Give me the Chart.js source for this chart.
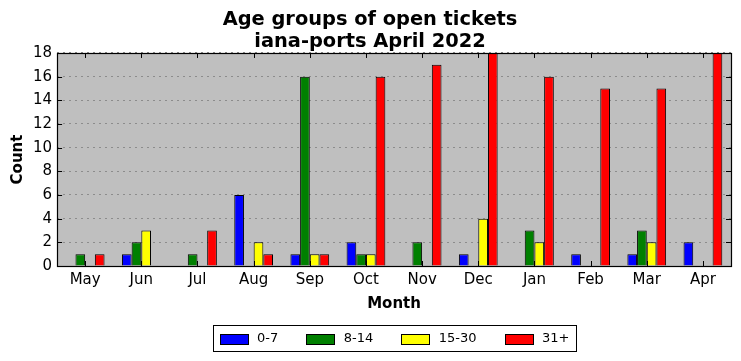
<!DOCTYPE html>
<html>
<head>
<meta charset="utf-8">
<script src="https://cdn.jsdelivr.net/npm/chart.js@4/dist/chart.umd.min.js"></script>
<style>
  html, body { margin: 0; padding: 0; background: #fff; }
  #wrap { width: 741px; height: 361px; }
</style>
</head>
<body>
<div id="wrap"><canvas id="c" width="741" height="361"></canvas></div>
<script>
const months = ['May', 'Jun', 'Jul', 'Aug', 'Sep', 'Oct', 'Nov', 'Dec', 'Jan', 'Feb', 'Mar', 'Apr'];
const age0to7   = [0, 1, 0, 6, 1, 2, 0, 1, 0, 1, 1, 2];
const age8to14  = [1, 2, 1, 0, 16, 1, 2, 0, 3, 0, 3, 0];
const age15to30 = [0, 3, 0, 2, 1, 1, 0, 4, 2, 0, 2, 0];
const age31plus = [1, 0, 3, 1, 1, 16, 17, 18, 16, 15, 15, 18];
const seriesLabels = ['0-7', '8-14', '15-30', '31+'];
const seriesColors = ['#0000ff', '#008000', '#ffff00', '#ff0000'];
const yTicks = [0, 2, 4, 6, 8, 10, 12, 14, 16, 18];

Chart.defaults.font.family = "'DejaVu Sans', sans-serif";
Chart.defaults.color = '#000';

const plotBg = {
  id: 'plotBg',
  beforeDraw(chart) {
    const {ctx, chartArea: a} = chart;
    ctx.save();
    ctx.fillStyle = '#bfbfbf';
    ctx.fillRect(a.left, a.top, a.right - a.left, a.bottom - a.top);
    ctx.restore();
  }
};

const frameTicks = {
  id: 'frameTicks',
  afterDatasetsDraw(chart) {
    const {ctx, chartArea: a, scales} = chart;
    ctx.save();
    ctx.strokeStyle = '#000';
    ctx.lineWidth = 1;
    ctx.beginPath();
    const L = 5;
    yTicks.forEach(v => {
      const y = Math.round(scales.y.getPixelForValue(v)) + 0.5;
      ctx.moveTo(a.left, y); ctx.lineTo(a.left + L, y);
      ctx.moveTo(a.right, y); ctx.lineTo(a.right - L, y);
    });
    months.forEach((m, i) => {
      const x = Math.round(scales.x.getPixelForValue(i)) + 0.5;
      ctx.moveTo(x, a.bottom); ctx.lineTo(x, a.bottom - L);
      ctx.moveTo(x, a.top); ctx.lineTo(x, a.top + L);
    });
    ctx.stroke();
    ctx.lineWidth = 1.2;
    ctx.strokeRect(Math.round(a.left) + 0.5, Math.round(a.top) + 0.5,
                   Math.round(a.right - a.left), Math.round(a.bottom - a.top));
    ctx.restore();
  }
};

const boxLegend = {
  id: 'boxLegend',
  afterDraw(chart) {
    const {ctx, chartArea: a} = chart;
    ctx.save();
    ctx.font = "13px 'DejaVu Sans'";
    const boxW = 28, boxH = 10, gapText = 9.5, gapItem = 28, padL = 6, padR = 7;
    const items = chart.data.datasets.map(ds => ({
      label: ds.label, color: ds.backgroundColor, w: ctx.measureText(ds.label).width
    }));
    let total = padL + padR;
    items.forEach((it, i) => { total += boxW + gapText + it.w + (i < items.length - 1 ? gapItem : 0); });
    const cx = (a.left + a.right) / 2;
    const fx = Math.round(cx - total / 2) + 0.5;
    const fy = Math.round(a.bottom + 59) + 0.5;
    const fh = 26;
    ctx.strokeStyle = '#000';
    ctx.lineWidth = 1;
    ctx.strokeRect(fx, fy, Math.round(total), fh);
    let x = fx + padL;
    const cy = fy + fh / 2;
    items.forEach(it => {
      ctx.fillStyle = it.color;
      ctx.fillRect(Math.round(x), Math.round(cy - boxH / 2), boxW, boxH);
      ctx.strokeRect(Math.round(x) + 0.5, Math.round(cy - boxH / 2) + 0.5, boxW, boxH);
      ctx.fillStyle = '#000';
      ctx.textBaseline = 'middle';
      ctx.textAlign = 'left';
      ctx.fillText(it.label, x + boxW + gapText, cy);
      x += boxW + gapText + it.w + gapItem;
    });
    ctx.restore();
  }
};

const seriesData = [age0to7, age8to14, age15to30, age31plus];

new Chart(document.getElementById('c'), {
  type: 'bar',
  data: {
    labels: months,
    datasets: seriesData.map((d, i) => ({
      label: seriesLabels[i],
      data: d,
      backgroundColor: seriesColors[i],
      borderColor: '#000',
      borderWidth: 1,
      borderSkipped: 'start',
      categoryPercentage: 0.69,
      barPercentage: 1.0
    }))
  },
  options: {
    responsive: false,
    animation: false,
    devicePixelRatio: 1,
    layout: { padding: { left: 9, right: 10, top: 0, bottom: 48 } },
    plugins: {
      legend: { display: false },
      tooltip: { enabled: false },
      title: {
        display: true,
        text: ['Age groups of open tickets', 'iana-ports April 2022'],
        color: '#000',
        font: { size: 19.4, weight: 'bold', lineHeight: 1.12 },
        padding: { top: 9, bottom: 0.5 }
      }
    },
    scales: {
      x: {
        type: 'category',
        offset: true,
        grid: { display: false, drawTicks: false },
        border: { display: false },
        ticks: { font: { size: 15 }, padding: 5, color: '#000', maxRotation: 0 },
        title: { display: true, text: 'Month', font: { size: 15, weight: 'bold' }, color: '#000', padding: { top: 1, bottom: 0 } }
      },
      y: {
        min: 0,
        max: 18,
        afterBuildTicks(scale) { scale.ticks = yTicks.map(v => ({ value: v })); },
        grid: { color: '#8c8c8c', lineWidth: 1, drawTicks: false },
        border: { display: false, dash: [2, 4] },
        ticks: { font: { size: 15 }, padding: 5, color: '#000' },
        title: { display: true, text: 'Count', font: { size: 15, weight: 'bold' }, color: '#000', padding: { top: 0, bottom: 1 } }
      }
    }
  },
  plugins: [plotBg, frameTicks, boxLegend]
});
</script>
</body>
</html>
